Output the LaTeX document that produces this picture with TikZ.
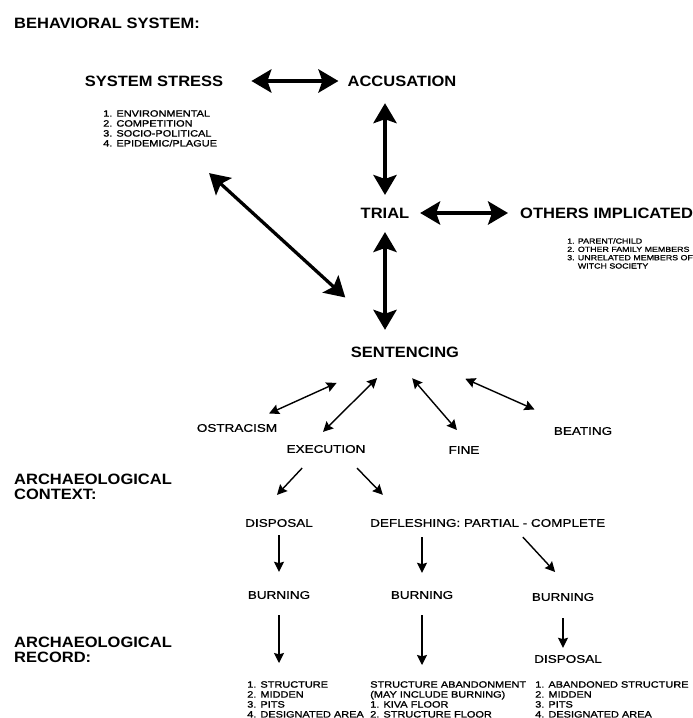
\documentclass[tikz,border=0pt]{standalone}
\usepackage{fontspec}
\setmainfont{Liberation Sans}
\newfontfamily\hv{Liberation Sans}[FakeStretch=1.2,FakeBold=0.6]
\newfontfamily\hvs{Liberation Sans}[FakeStretch=1.2,FakeBold=1.2]
\newfontfamily\hvb{Liberation Sans}[FakeStretch=1.1]
\usetikzlibrary{arrows.meta}
\tikzset{
  hdr/.style={font=\hvb\bfseries\fontsize{12.8}{12.8}\selectfont,inner sep=0pt,align=left},
  lab/.style={font=\hv\fontsize{9.6}{11}\selectfont,inner sep=0pt},
  lst/.style={font=\hvs\fontsize{7.8}{8.5}\selectfont,inner sep=0pt,align=left},
  lsts/.style={font=\hvs\fontsize{6.3}{7.1}\selectfont,inner sep=0pt,align=left},
  bigarr/.style={line width=2.8pt,{Stealth[length=6mm,width=7mm,inset=1.2mm]}-{Stealth[length=6mm,width=7mm,inset=1.2mm]}},
  arr/.style={line width=1.2pt,-{Stealth[length=3mm,width=3mm,inset=0.4mm]}},
  darr/.style={line width=1.2pt,{Stealth[length=3mm,width=3mm,inset=0.4mm]}-{Stealth[length=3mm,width=3mm,inset=0.4mm]}},
}
\begin{document}
\begin{tikzpicture}[x=0.3mm,y=-0.3mm]
  \useasboundingbox (0,0) rectangle (693,718);
  \node[hdr,anchor=west] (beh) at (14,23) {BEHAVIORAL SYSTEM:};
  \node[hdr] (ss) at (154,81) {SYSTEM STRESS}; \node[hdr] (acc) at (402,81) {ACCUSATION};
  \node[lst,anchor=north west] (sslist) at (103,110)
    {1. ENVIRONMENTAL\\2. COMPETITION\\3. SOCIO-POLITICAL\\4. EPIDEMIC/PLAGUE};
  \node[hdr] (trial) at (385,213) {TRIAL}; \node[hdr,anchor=west] (oth) at (520,213) {OTHERS IMPLICATED};
  \node[lsts,anchor=north west] (othlist) at (567,238)
    {1. PARENT/CHILD\\2. OTHER FAMILY MEMBERS\\3. UNRELATED MEMBERS OF\\\hphantom{3. }WITCH SOCIETY};
  \node[hdr] (sent) at (405,352) {SENTENCING};
  \node[lab] (ostr) at (237,428) {OSTRACISM}; \node[lab] (exe) at (326,449) {EXECUTION};
  \node[lab] (fine) at (464,450) {FINE}; \node[lab] (beat) at (583,431) {BEATING};
  \node[hdr,anchor=north west] (ctx) at (14,474) {ARCHAEOLOGICAL\\CONTEXT:};
  \node[lab] (disp) at (279,523) {DISPOSAL};
  \node[lab,anchor=west] (defl) at (370,523) {DEFLESHING: PARTIAL - COMPLETE};
  \node[lab] (burn1) at (279,595) {BURNING}; \node[lab] (burn2) at (422,595) {BURNING};
  \node[lab] (burn3) at (563,597) {BURNING};
  \node[hdr,anchor=north west] (rec) at (14,637) {ARCHAEOLOGICAL\\RECORD:};
  \node[lab] (disp2) at (568,659) {DISPOSAL};
  \node[lst,anchor=north west] (rec1) at (247,681) {1. STRUCTURE\\2. MIDDEN\\3. PITS\\4. DESIGNATED AREA};
  \node[lst,anchor=north west] (rec2) at (370,681)
    {STRUCTURE ABANDONMENT\\(MAY INCLUDE BURNING)\\1. KIVA FLOOR\\2. STRUCTURE FLOOR};
  \node[lst,anchor=north west] (rec3) at (535,681)
    {1. ABANDONED STRUCTURE\\2. MIDDEN\\3. PITS\\4. DESIGNATED AREA};

  \draw[bigarr,shorten <=8.4mm,shorten >=2.7mm] (ss) -- (acc);
  \draw[bigarr,shorten <=5mm,shorten >=3.8mm] (trial.north |- acc.south) -- (trial.north);
  \draw[bigarr,shorten <=3.2mm,shorten >=3.6mm] (trial) -- (oth);
  \draw[bigarr,shorten <=11.7mm,shorten >=21.8mm] (sslist) -- (sent);
  \draw[bigarr,shorten <=4.1mm,shorten >=5mm] (trial.south) -- (trial.south |- sent.north);
  \draw[darr,shorten <=7.5mm,shorten >=18.5mm] (ostr) -- (sent);
  \draw[darr,shorten <=5.5mm,shorten >=8.7mm] ([xshift=-4.8mm]exe.north) -- ([xshift=-2.2mm]sent.south);
  \draw[darr,shorten <=8.2mm,shorten >=6.3mm] ([xshift=-3.2mm]sent.south) -- ([xshift=2mm]fine.north);
  \draw[darr,shorten <=15.7mm,shorten >=12.8mm] (sent) -- (beat);
  \draw[arr,shorten <=6.1mm,shorten >=9.8mm] ([xshift=-3mm]exe.south) -- ([xshift=-7.3mm]disp.north);
  \draw[arr,shorten <=6.2mm,shorten >=10mm] ([xshift=5mm]exe.south) -- ([xshift=10.8mm]defl.north west);
  \draw[arr,shorten <=2.4mm,shorten >=5.7mm] (disp.south) -- (burn1.north);
  \draw[arr,shorten <=3mm,shorten >=5.4mm] (burn2.north |- defl.south) -- (burn2.north);
  \draw[arr,shorten <=4mm,shorten >=8.5mm] ([xshift=7.8mm]defl.south) -- ([xshift=3.4mm]burn3.north);
  \draw[arr,shorten <=4.8mm,shorten >=5.4mm] (burn1.south) -- (burn1.south |- rec1.north);
  \draw[arr,shorten <=4.8mm,shorten >=4.8mm] (burn2.south) -- (burn2.south |- rec2.north);
  \draw[arr,shorten <=5.1mm,shorten >=2.1mm] (burn3.south) -- (burn3.south |- disp2.north);
\end{tikzpicture}
\end{document}
